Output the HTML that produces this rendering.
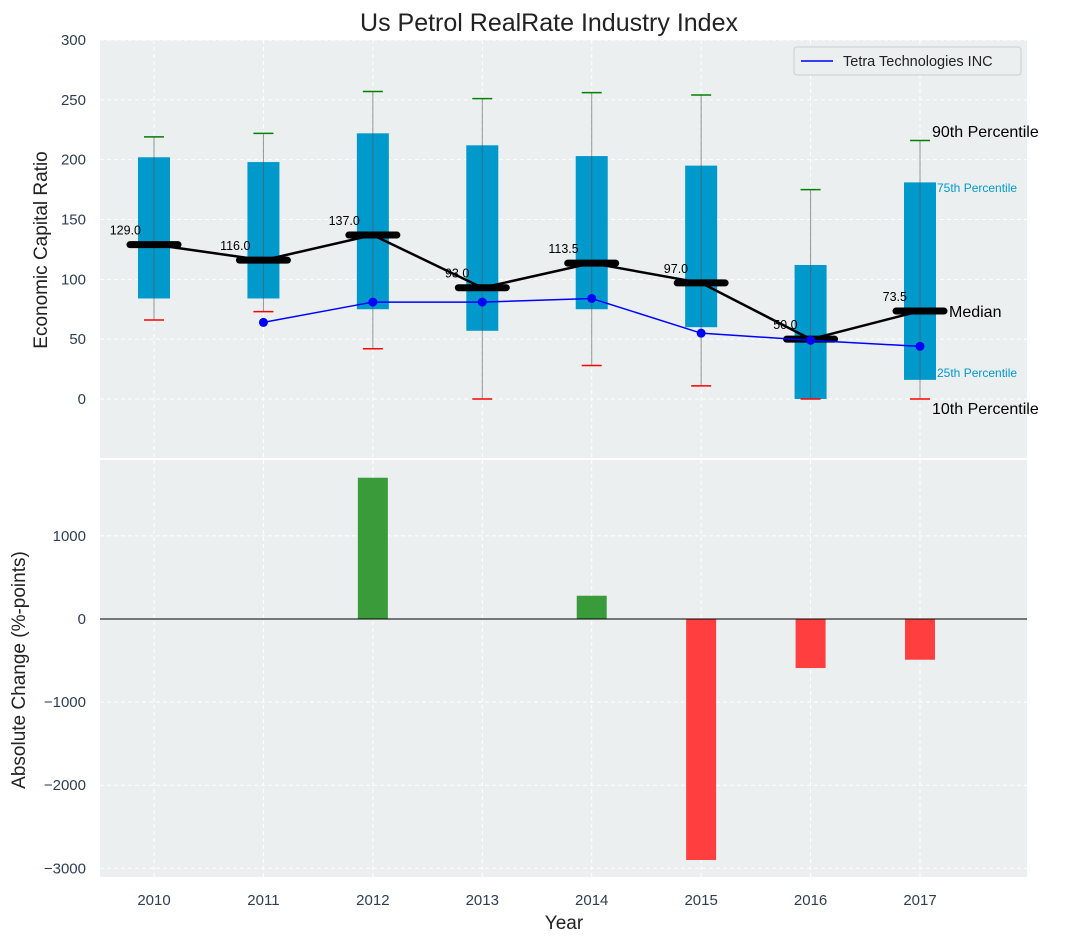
<!DOCTYPE html>
<html><head><meta charset="utf-8"><style>
body{margin:0;background:#fff;}
svg{display:block;font-family:"Liberation Sans","DejaVu Sans",sans-serif;}
</style></head><body>
<svg id="c" width="1067" height="942" xmlns="http://www.w3.org/2000/svg"></svg>
<script>
const years=[2010,2011,2012,2013,2014,2015,2016,2017];
const p10=[66,73,42,0,28,11,0,0];
const p25=[84,84,75,57,75,60,0,16];
const median=[129,116,137,93,113.5,97,50,73.5];
const p75=[202,198,222,212,203,195,112,181];
const p90=[219,222,257,251,256,254,175,216];
const tetra=[null,64,81,81,84,55,49,44];
const change=[0,0,1700,0,280,-2900,-590,-490];
const topTicks=[0,50,100,150,200,250,300];
const botTicks=[-3000,-2000,-1000,0,1000];

const svg=document.getElementById('c');
const NS='http://www.w3.org/2000/svg';
function el(t,a,p){const e=document.createElementNS(NS,t);for(const k in a)e.setAttribute(k,a[k]);(p||svg).appendChild(e);return e;}
const X=i=>154+i*109.43;
const Y1=v=>399-v*1.1967;
const Y2=v=>619-v*0.0831;
const L=100,R=1027;
const tc='#2e3e50';

let bg1=el('rect',{x:L,y:40,width:R-L,height:418,fill:'#ebeff0'});

let bg2=el('rect',{x:L,y:460,width:R-L,height:417,fill:'#ebeff0'});


years.forEach((y,i)=>{
 el('line',{x1:X(i),x2:X(i),y1:40,y2:458,stroke:'#fff','stroke-dasharray':'4,3'});
 el('line',{x1:X(i),x2:X(i),y1:460,y2:877,stroke:'#fff','stroke-dasharray':'4,3'});
 let t=el('text',{x:X(i),y:905,'font-size':15,fill:tc,'text-anchor':'middle'});t.textContent=y;
 
});
topTicks.forEach(v=>{
 el('line',{x1:L,x2:R,y1:Y1(v),y2:Y1(v),stroke:'#fff','stroke-dasharray':'4,3'});
 let t=el('text',{x:86,y:Y1(v)+5,'font-size':15,fill:tc,'text-anchor':'end'});t.textContent=v;
 
});
botTicks.forEach(v=>{
 el('line',{x1:L,x2:R,y1:Y2(v),y2:Y2(v),stroke:'#fff','stroke-dasharray':'4,3'});
 let t=el('text',{x:86,y:Y2(v)+5,'font-size':15,fill:tc,'text-anchor':'end'});t.textContent=v<0?'\u2212'+(-v):v;
 
});

years.forEach((y,i)=>{
 const x=X(i);
 let b=el('rect',{x:x-16,y:Y1(p75[i]),width:32,height:Y1(p25[i])-Y1(p75[i]),fill:'#0099cc'});
 
 el('line',{x1:x,x2:x,y1:Y1(p90[i]),y2:Y1(p10[i]),stroke:'#555','stroke-opacity':0.6,'stroke-width':1});
 let c1=el('line',{x1:x-10,x2:x+10,y1:Y1(p90[i]),y2:Y1(p90[i]),stroke:'green','stroke-width':1.5});
 
 let c2=el('line',{x1:x-10,x2:x+10,y1:Y1(p10[i]),y2:Y1(p10[i]),stroke:'red','stroke-width':1.5});
 
});
let mp=el('polyline',{points:median.map((m,i)=>X(i)+','+Y1(m)).join(' '),fill:'none',stroke:'#000','stroke-width':2.5});

median.forEach((m,i)=>{
 let l=el('line',{x1:X(i)-24,x2:X(i)+24,y1:Y1(m),y2:Y1(m),stroke:'#000','stroke-width':7,'stroke-linecap':'round'});
 
 let t=el('text',{x:X(i)-13,y:Y1(m)-10,'font-size':12.5,fill:'#000','text-anchor':'end'});t.textContent=m.toFixed(1);
 
});
const tp=[];tetra.forEach((v,i)=>{if(v!==null)tp.push(X(i)+','+Y1(v));});
let tl=el('polyline',{points:tp.join(' '),fill:'none',stroke:'blue','stroke-width':1.5});

tetra.forEach((v,i)=>{if(v===null)return;
 let d=el('circle',{cx:X(i),cy:Y1(v),r:4.5,fill:'blue'});
 
});
const ann=[[932,137,'90th Percentile',16,'#000'],[937,192,'75th Percentile',12,'#0099cc'],[949,317,'Median',16,'#000'],[937,377,'25th Percentile',12,'#0099cc'],[932,414,'10th Percentile',16,'#000']];
ann.forEach(a=>{let t=el('text',{x:a[0],y:a[1],'font-size':a[3],fill:a[4]});t.textContent=a[2];
 });
let lg=el('g',{});
el('rect',{x:794,y:47,width:227,height:28,fill:'#ebeff0',stroke:'#ccc',rx:3},lg);
el('line',{x1:801,x2:833,y1:61,y2:61,stroke:'blue','stroke-width':1.5},lg);
let lt=el('text',{x:843,y:66,'font-size':14.5,fill:'#222'},lg);lt.textContent='Tetra Technologies INC';

change.forEach((v,i)=>{if(!v)return;
 let b=el('rect',{x:X(i)-15,y:Math.min(Y2(v),Y2(0)),width:30,height:Math.abs(Y2(v)-Y2(0)),fill:v>0?'#3a9b3a':'#ff3f3f'});
 
});
let zl=el('line',{x1:L,x2:R,y1:Y2(0),y2:Y2(0),stroke:'#000','stroke-width':1});


let tt=el('text',{x:549,y:31,'font-size':25,fill:'#222','text-anchor':'middle'});tt.textContent='Us Petrol RealRate Industry Index';

let y1=el('text',{x:47,y:250,'font-size':19,fill:'#222','text-anchor':'middle',transform:'rotate(-90 47 250)'});y1.textContent='Economic Capital Ratio';

let y2=el('text',{x:25,y:670,'font-size':19,fill:'#222','text-anchor':'middle',transform:'rotate(-90 25 670)'});y2.textContent='Absolute Change (%-points)';

let xt=el('text',{x:564,y:929,'font-size':19,fill:'#222','text-anchor':'middle'});xt.textContent='Year';

</script>
</body></html>
